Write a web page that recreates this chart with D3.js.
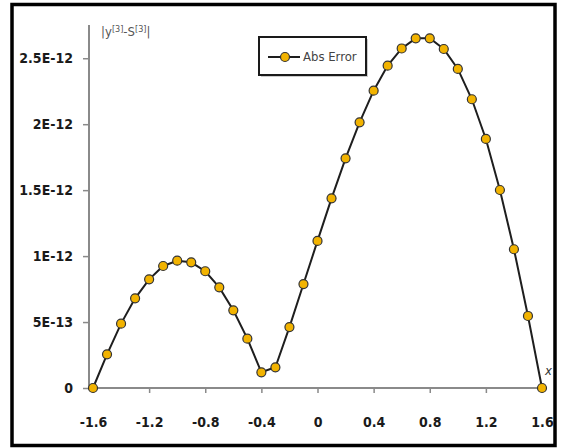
<!DOCTYPE html>
<html>
<head>
<meta charset="utf-8">
<script src="https://cdn.jsdelivr.net/npm/d3@7"></script>
<style>
  body { margin: 0; background: #fff; }
  text { font-family: "DejaVu Sans Condensed", "Liberation Sans Narrow", sans-serif; }
</style>
</head>
<body>
<div id="graph"></div>
<script>
let width = 565, height = 448;

// chart data
const xValues = [-1.6, -1.5, -1.4, -1.3, -1.2, -1.1, -1.0, -0.9, -0.8, -0.7, -0.6,
  -0.5, -0.4, -0.3, -0.2, -0.1, 0, 0.1, 0.2, 0.3, 0.4, 0.5, 0.6, 0.7, 0.8, 0.9,
  1.0, 1.1, 1.2, 1.3, 1.4, 1.5, 1.6];
const absError = [0, 2.55e-13, 4.88e-13, 6.80e-13, 8.24e-13, 9.25e-13, 9.65e-13,
  9.53e-13, 8.85e-13, 7.63e-13, 5.89e-13, 3.74e-13, 1.19e-13, 1.57e-13, 4.62e-13,
  7.88e-13, 1.115e-12, 1.438e-12, 1.741e-12, 2.014e-12, 2.254e-12, 2.444e-12,
  2.574e-12, 2.651e-12, 2.651e-12, 2.570e-12, 2.419e-12, 2.189e-12, 1.888e-12,
  1.501e-12, 1.052e-12, 5.46e-13, 0];
const xTicks = [-1.6, -1.2, -0.8, -0.4, 0, 0.4, 0.8, 1.2, 1.6];
const xTickLabels = ["-1.6", "-1.2", "-0.8", "-0.4", "0", "0.4", "0.8", "1.2", "1.6"];
const yTicks = [0, 5e-13, 1e-12, 1.5e-12, 2e-12, 2.5e-12];
const yTickLabels = ["0", "5E-13", "1E-12", "1.5E-12", "2E-12", "2.5E-12"];
const seriesName = "Abs Error";

let svg = d3.select("#graph").append("svg")
  .attr("width", width)
  .attr("height", height);

svg.append("rect")
  .attr("x", 0).attr("y", 0)
  .attr("width", width).attr("height", height)
  .attr("fill", "white");

// outer frame
svg.append("rect")
  .attr("x", 12).attr("y", 4.5)
  .attr("width", 543).attr("height", 441)
  .attr("fill", "none")
  .attr("stroke", "black")
  .attr("stroke-width", 3.5);

// scales
let x = d3.scaleLinear().domain([-1.6285, 1.6285]).range([89, 546]);
let y = d3.scaleLinear().domain([0, 2.752e-12]).range([388, 25]);

// x axis
let xAxis = svg.append("g")
  .attr("transform", "translate(0," + y(0) + ")")
  .call(d3.axisBottom(x).tickValues(xTicks).tickSize(5).tickPadding(24)
    .tickFormat((d, i) => xTickLabels[i]));

// y axis
let yAxis = svg.append("g")
  .attr("transform", "translate(" + x.range()[0] + ",0)")
  .call(d3.axisLeft(y).tickValues(yTicks).tickSize(6).tickPadding(10)
    .tickFormat((d, i) => yTickLabels[i]));

[xAxis, yAxis].forEach(ax => {
  ax.select(".domain").attr("stroke", "#8a8a8a").attr("stroke-width", 2);
  ax.selectAll(".tick line").attr("stroke", "#8a8a8a").attr("stroke-width", 1.5);
  ax.selectAll(".tick text")
    .attr("fill", "#1a1a1a")
    .style("font-size", "14px")
    .style("font-weight", "bold");
});
xAxis.select(".domain").attr("d", "M" + x.range()[0] + ",0H" + x.range()[1]);
yAxis.select(".domain").attr("d", "M0," + y.range()[0] + "V" + y.range()[1]);

// y axis title |y[3]-S[3]|
let yTitle = svg.append("text")
  .attr("x", 101).attr("y", 36)
  .attr("fill", "#555")
  .style("font-size", "13px");
yTitle.append("tspan").text("|y");
yTitle.append("tspan").attr("dy", -4).style("font-size", "9px").text("[3]");
yTitle.append("tspan").attr("dy", 4).text("-S");
yTitle.append("tspan").attr("dy", -4).style("font-size", "9px").text("[3]");
yTitle.append("tspan").attr("dy", 4).text("|");

// x axis title
svg.append("text")
  .attr("x", 545).attr("y", 375)
  .attr("fill", "#333")
  .style("font-size", "13px")
  .style("font-style", "italic")
  .text("x");

// series line
let line = d3.line()
  .x((d, i) => x(xValues[i]))
  .y(d => y(d));

svg.append("path")
  .datum(absError)
  .attr("fill", "none")
  .attr("stroke", "#1e1e1e")
  .attr("stroke-width", 2)
  .attr("d", line);

svg.append("g")
  .selectAll("circle")
  .data(absError)
  .enter().append("circle")
  .attr("cx", (d, i) => x(xValues[i]))
  .attr("cy", d => y(d))
  .attr("r", 4.5)
  .attr("fill", "#f2b300")
  .attr("stroke", "#333")
  .attr("stroke-width", 1.2);

// legend
let legend = svg.append("g").attr("id", "legend");
legend.append("rect")
  .attr("x", 261).attr("y", 39)
  .attr("width", 107).attr("height", 38)
  .attr("fill", "#ccc");
legend.append("rect")
  .attr("x", 259).attr("y", 37)
  .attr("width", 107).attr("height", 38)
  .attr("fill", "white")
  .attr("stroke", "#1a1a1a")
  .attr("stroke-width", 2);
legend.append("line")
  .attr("x1", 268).attr("x2", 300)
  .attr("y1", 57).attr("y2", 57)
  .attr("stroke", "#1e1e1e")
  .attr("stroke-width", 2);
legend.append("circle")
  .attr("cx", 285).attr("cy", 57).attr("r", 4.5)
  .attr("fill", "#f2b300")
  .attr("stroke", "#333")
  .attr("stroke-width", 1.2);
legend.append("text")
  .attr("x", 303).attr("y", 57)
  .attr("dominant-baseline", "middle")
  .attr("fill", "#444")
  .style("font-size", "13px")
  .text(seriesName);
</script>
</body>
</html>
